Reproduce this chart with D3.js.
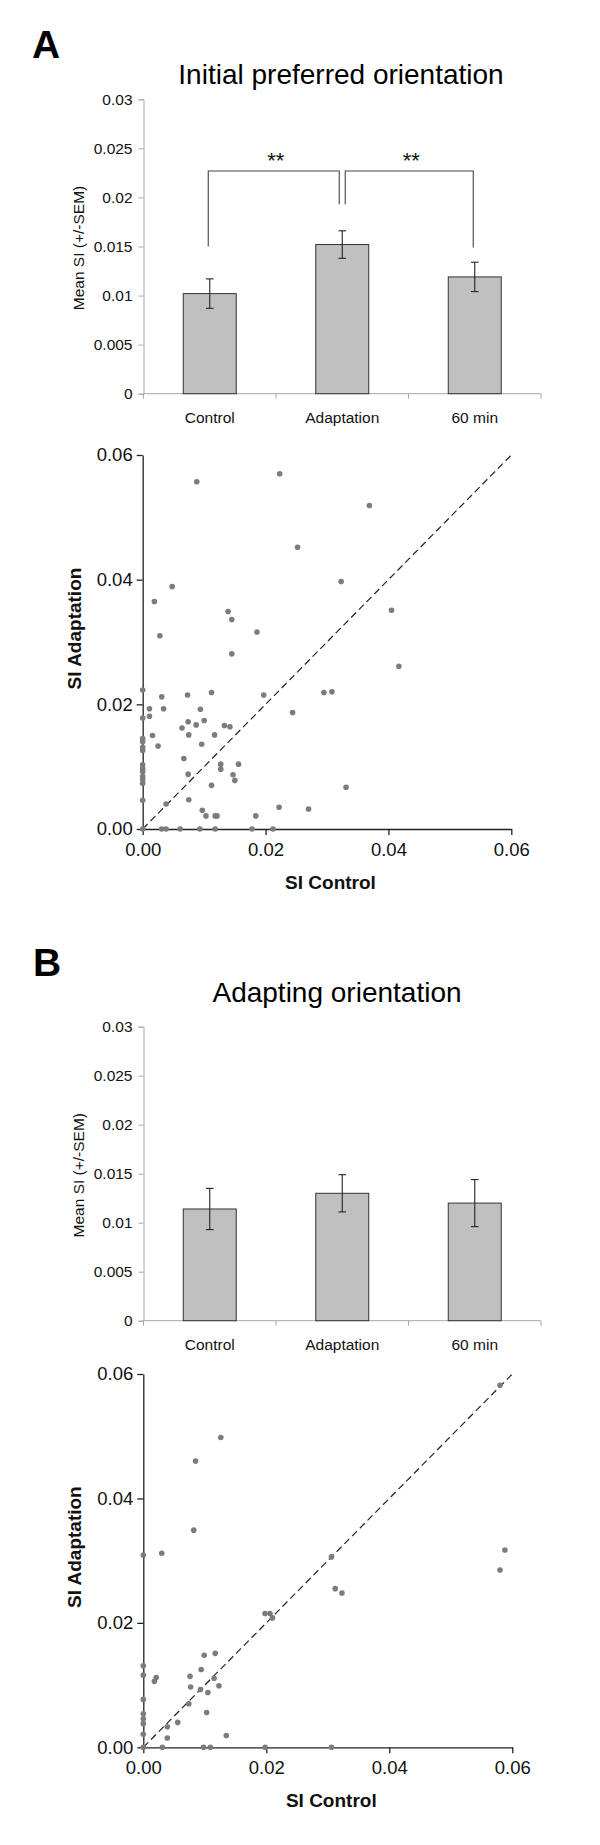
<!DOCTYPE html>
<html>
<head>
<meta charset="utf-8">
<script src="https://cdn.jsdelivr.net/npm/d3@7"></script>
<style>
  html, body { margin: 0; padding: 0; background: #fff; }
  svg { display: block; }
  text { font-family: "Liberation Sans", Arial, sans-serif; }
</style>
</head>
<body>
<svg id="fig" width="600" height="1845"></svg>
<script>
// ---------------- DATA ----------------
const categories = ["Control", "Adaptation", "60 min"];
const barTicks = [0, 0.005, 0.01, 0.015, 0.02, 0.025, 0.03];
const barTickLabels = ["0", "0.005", "0.01", "0.015", "0.02", "0.025", "0.03"];
const scatterTicks = [0, 0.02, 0.04, 0.06];
const scatterTickLabels = ["0.00", "0.02", "0.04", "0.06"];

// Panel A: initial preferred orientation
const meanA = [0.0102, 0.0152, 0.0119];
const semA  = [0.0015, 0.0014, 0.0015];
// significance brackets: [fromIndex, toIndex, topValue, fromLegBottom, toLegBottom]
const sigA = [[0, 1, 0.0227, 0.0150, 0.0193], [1, 2, 0.0227, 0.0193, 0.0149]];
const sigLabel = "**";

// Panel B: adapting orientation
const meanB = [0.0114, 0.0130, 0.0120];
const semB  = [0.0021, 0.0019, 0.0024];

// Scatter A: [SI Control, SI Adaptation]
const scatterA = [
  [0.0088,0.0557],[0.0223,0.0570],[0.0252,0.0452],[0.0323,0.0397],[0.0048,0.0389],
  [0.0019,0.0365],[0.0139,0.0349],[0.0145,0.0336],[0.0028,0.0310],[0.0186,0.0316],
  [0.0145,0.0281],[0.0369,0.0519],[0.0405,0.0351],[0.0417,0.0261],[0.0295,0.0219],
  [0.0308,0.0220],[0.0331,0.0067],[0.0270,0.0032],
  [0,0.0223],[0.0031,0.0212],[0.0073,0.0215],[0.0112,0.0219],[0.0197,0.0215],
  [0.0244,0.0187],[0.0011,0.0193],[0.0034,0.0193],[0.0094,0.0192],[0.0011,0.0181],
  [0,0.0178],[0.0074,0.0172],[0.0100,0.0174],[0.0064,0.0162],[0.0087,0.0167],
  [0.0075,0.0151],[0.0133,0.0166],[0.0142,0.0164],[0.0117,0.0151],[0.0016,0.0150],
  [0,0.0145],[0,0.0140],[0,0.0131],[0,0.0126],[0.0025,0.0133],[0.0096,0.0136],
  [0.0067,0.0113],[0.0127,0.0104],[0.0127,0.0096],[0.0156,0.0104],
  [0,0.0103],[0,0.0097],[0,0.0092],[0,0.0084],[0,0.0079],[0,0.0073],
  [0.0074,0.0088],[0.0147,0.0087],[0.0150,0.0078],[0.0112,0.0070],[0.0075,0.0047],
  [0,0.0046],[0.0038,0.0040],[0.0097,0.0030],[0.0103,0.0021],[0.0118,0.0021],
  [0.0121,0.0021],[0.0184,0.0021],[0.0222,0.0035],
  [0,0],[0.0031,0],[0.0038,0],[0.0061,0],[0.0093,0],[0.0118,0],[0.0178,0],[0.0212,0]
];

// Scatter B: [SI Control, SI Adaptation]
const scatterB = [
  [0.0126,0.0498],[0.0085,0.0460],[0.0082,0.0349],[0,0.0309],[0.0030,0.0312],
  [0.0306,0.0306],[0.0312,0.0255],[0.0323,0.0248],[0.0580,0.0582],[0.0588,0.0317],
  [0.0580,0.0285],[0.0306,0],
  [0.0198,0.0215],[0.0206,0.0215],[0.0210,0.0208],[0.0099,0.0148],[0.0117,0.0151],
  [0,0.0131],[0,0.0116],[0.0021,0.0112],[0.0018,0.0106],[0.0076,0.0114],
  [0.0094,0.0125],[0.0115,0.0111],[0.0077,0.0097],[0.0093,0.0093],[0.0123,0.0099],
  [0.0105,0.0088],[0,0.0077],[0.0074,0.0070],[0.0103,0.0056],[0,0.0054],
  [0,0.0046],[0,0.0038],[0.0056,0.0040],[0.0039,0.0033],[0.0039,0.0015],
  [0,0.0021],[0.0135,0.0019],[0.0031,0],[0.0098,0],[0.0109,0],[0.0198,0],[0,0]
];

// ---------------- DRAWING ----------------
const svg = d3.select("#fig");

function panelLetter(letter, x, y) {
  svg.append("text").attr("x", x).attr("y", y)
    .attr("font-size", 39).attr("font-weight", "bold").attr("fill", "#000")
    .text(letter);
}

function title(txt, cx, y) {
  svg.append("text").attr("x", cx).attr("y", y)
    .attr("text-anchor", "middle").attr("font-size", 28).attr("fill", "#000")
    .text(txt);
}

function barChart(means, sems, top, bottom, sig) {
  const g = svg.append("g");
  const x = d3.scaleBand(categories, [143.5, 541]).paddingInner(0.6).paddingOuter(0.3);
  const y = d3.scaleLinear([0, 0.03], [bottom, top]);
  const axisColor = "#a8a8a8";

  const yAxis = d3.axisLeft(y).tickValues(barTicks)
    .tickFormat((d, i) => barTickLabels[i]).tickSize(5).tickPadding(6);
  const ya = g.append("g").attr("transform", "translate(143.5,0)").call(yAxis);
  ya.select(".domain").attr("stroke", axisColor).attr("stroke-width", 1);
  ya.selectAll(".tick line").attr("stroke", axisColor);
  ya.selectAll(".tick text").attr("font-size", 15.5).attr("fill", "#111")
    .attr("font-family", "Liberation Sans, Arial, sans-serif");

  g.append("line").attr("x1", 143.5).attr("x2", 541).attr("y1", bottom).attr("y2", bottom)
    .attr("stroke", axisColor);
  const step = x.step();
  d3.range(categories.length + 1).forEach(i => {
    const xx = 143.5 + i * step;
    g.append("line").attr("x1", xx).attr("x2", xx).attr("y1", bottom).attr("y2", bottom + 5)
      .attr("stroke", axisColor);
  });
  g.selectAll(".cat").data(categories).join("text")
    .attr("x", d => x(d) + x.bandwidth() / 2).attr("y", bottom + 29.5)
    .attr("text-anchor", "middle").attr("font-size", 15.5).attr("fill", "#111")
    .text(d => d);

  g.selectAll(".bar").data(means).join("rect")
    .attr("x", (d, i) => x(categories[i]))
    .attr("y", d => y(d))
    .attr("width", x.bandwidth())
    .attr("height", d => bottom - y(d))
    .attr("fill", "#c0c0c0").attr("stroke", "#333").attr("stroke-width", 1);

  means.forEach((m, i) => {
    const cx = x(categories[i]) + x.bandwidth() / 2;
    const hi = y(m + sems[i]), lo = y(m - sems[i]);
    g.append("line").attr("x1", cx).attr("x2", cx).attr("y1", hi).attr("y2", lo)
      .attr("stroke", "#222").attr("stroke-width", 1.1);
    [hi, lo].forEach(yy => g.append("line").attr("x1", cx - 3.8).attr("x2", cx + 3.8)
      .attr("y1", yy).attr("y2", yy).attr("stroke", "#222").attr("stroke-width", 1.1));
  });

  g.append("text").attr("transform", `translate(84,${(top + bottom) / 2 + 1.5}) rotate(-90)`)
    .attr("text-anchor", "middle").attr("font-size", 15.5).attr("fill", "#111")
    .text("Mean SI (+/-SEM)");

  if (sig) {
    sig.forEach(([a, b, yt, ya0, yb0]) => {
      const ca = x(categories[a]) + x.bandwidth() / 2 + (a === 1 ? 3 : -1.5);
      const cb = x(categories[b]) + x.bandwidth() / 2 + (b === 1 ? -3 : -1.5);
      const path = d3.path();
      path.moveTo(ca, y(ya0)); path.lineTo(ca, y(yt)); path.lineTo(cb, y(yt)); path.lineTo(cb, y(yb0));
      g.append("path").attr("d", path.toString()).attr("fill", "none")
        .attr("stroke", "#444").attr("stroke-width", 1.1);
      g.append("text").attr("x", (ca + cb) / 2 + 2).attr("y", y(yt) - 3)
        .attr("text-anchor", "middle").attr("font-size", 22).attr("fill", "#111")
        .text(sigLabel);
    });
  }
}

function scatter(data, x0, x1, yBottom, yTop) {
  const g = svg.append("g");
  const x = d3.scaleLinear([0, 0.06], [x0, x1]);
  const y = d3.scaleLinear([0, 0.06], [yBottom, yTop]);

  g.append("line").attr("x1", x(0)).attr("y1", y(0)).attr("x2", x(0.06)).attr("y2", y(0.06))
    .attr("stroke", "#222").attr("stroke-width", 1.2).attr("stroke-dasharray", "7,4");

  const xa = g.append("g").attr("transform", `translate(0,${yBottom})`)
    .call(d3.axisBottom(x).tickValues(scatterTicks).tickFormat((d, i) => scatterTickLabels[i])
      .tickSizeInner(6).tickSizeOuter(0).tickPadding(8));
  const ya = g.append("g").attr("transform", `translate(${x0},0)`)
    .call(d3.axisLeft(y).tickValues(scatterTicks).tickFormat((d, i) => scatterTickLabels[i])
      .tickSizeInner(6).tickSizeOuter(0).tickPadding(4));
  [xa, ya].forEach(a => {
    a.select(".domain").attr("stroke", "#222").attr("stroke-width", 1.3);
    a.selectAll(".tick line").attr("stroke", "#222").attr("stroke-width", 1.3);
    a.selectAll(".tick text").attr("font-size", 18.5).attr("fill", "#111")
      .attr("font-family", "Liberation Sans, Arial, sans-serif");
  });

  g.selectAll(".pt").data(data).join("circle")
    .attr("cx", d => x(d[0])).attr("cy", d => y(d[1])).attr("r", 2.8)
    .attr("fill", "#7c7c7c");

  g.append("text").attr("x", (x0 + x1) / 2 + 3.5).attr("y", yBottom + 59.5)
    .attr("text-anchor", "middle").attr("font-size", 19).attr("font-weight", "bold")
    .attr("fill", "#111").text("SI Control");
  g.append("text").attr("transform", `translate(80.5,${(yBottom + yTop) / 2 - 13.5}) rotate(-90)`)
    .attr("text-anchor", "middle").attr("font-size", 19).attr("font-weight", "bold")
    .attr("fill", "#111").text("SI Adaptation");
}

// Panel A
panelLetter("A", 32, 58);
title("Initial preferred orientation", 341, 83.5);
barChart(meanA, semA, 99.3, 393.7, sigA);
scatter(scatterA, 142.7, 511.3, 829, 455);

// Panel B
panelLetter("B", 33, 975.7);
title("Adapting orientation", 337, 1002.3);
barChart(meanB, semB, 1026.7, 1320.7, null);
scatter(scatterB, 143.3, 512.3, 1747.3, 1374);
</script>
</body>
</html>
